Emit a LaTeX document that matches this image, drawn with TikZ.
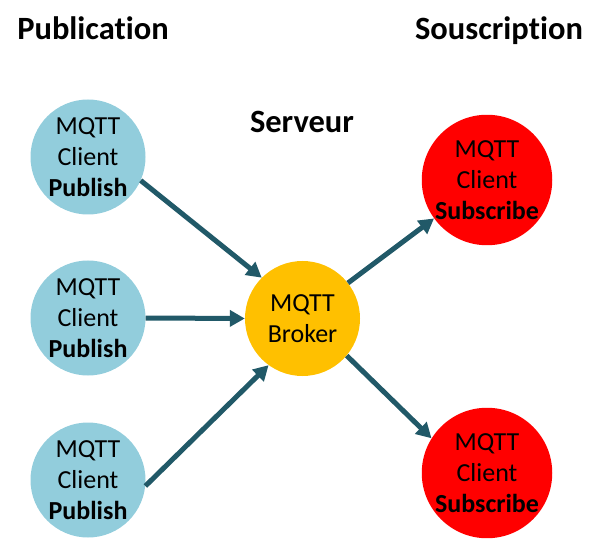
\documentclass[tikz,border=0pt]{standalone}
\usepackage{fontspec}
\setmainfont{Carlito}[Ligatures=NoCommon]
\usetikzlibrary{arrows.meta}
\definecolor{pubblue}{HTML}{92CDDC}
\definecolor{subred}{HTML}{FF0000}
\definecolor{brokeror}{HTML}{FFC000}
\definecolor{arrowc}{HTML}{215968}
\begin{document}
\begin{tikzpicture}[x=1pt,y=-1pt,
  client/.style={circle,fill=#1,minimum size=115pt,inner sep=0pt,align=center,
    font=\fontsize{26}{31}\selectfont},
  bigclient/.style={client=#1,minimum size=130pt},
  title/.style={font=\fontsize{32.5}{38}\selectfont\bfseries,inner sep=0pt,anchor=base},
  link/.style={draw=arrowc,line width=5pt,-{Triangle[length=15pt,width=16pt]}}]
\useasboundingbox (0,0) rectangle (600,540);
\node[title] (tpub) at (93,40) {Publication};
\node[title] (tsub) at (499,40) {Souscription};
\node[title] (tser) at (302,133) {Serveur};
\node[client=pubblue] (p1) at (88,157) {MQTT\\Client\\\textbf{Publish}};
\node[client=pubblue] (p2) at (88,318) {MQTT\\Client\\\textbf{Publish}};
\node[client=pubblue] (p3) at (88,480) {MQTT\\Client\\\textbf{Publish}};
\node[client=brokeror] (b) at (302.5,318.5) {MQTT\\Broker};
\node[bigclient=subred] (s1) at (487,180) {MQTT\\Client\\\textbf{Subscribe}};
\node[bigclient=subred] (s2) at (487,473) {MQTT\\Client\\\textbf{Subscribe}};
\draw[link] (p1.-24) -- (b.135);
\draw[link] (p2.0) -- (b.180);
\draw[link] (p3.-6) -- (b.234);
\draw[link] (b.38) -- (s1.216);
\draw[link] (b.-40) -- (s2.148);
\end{tikzpicture}
\end{document}
